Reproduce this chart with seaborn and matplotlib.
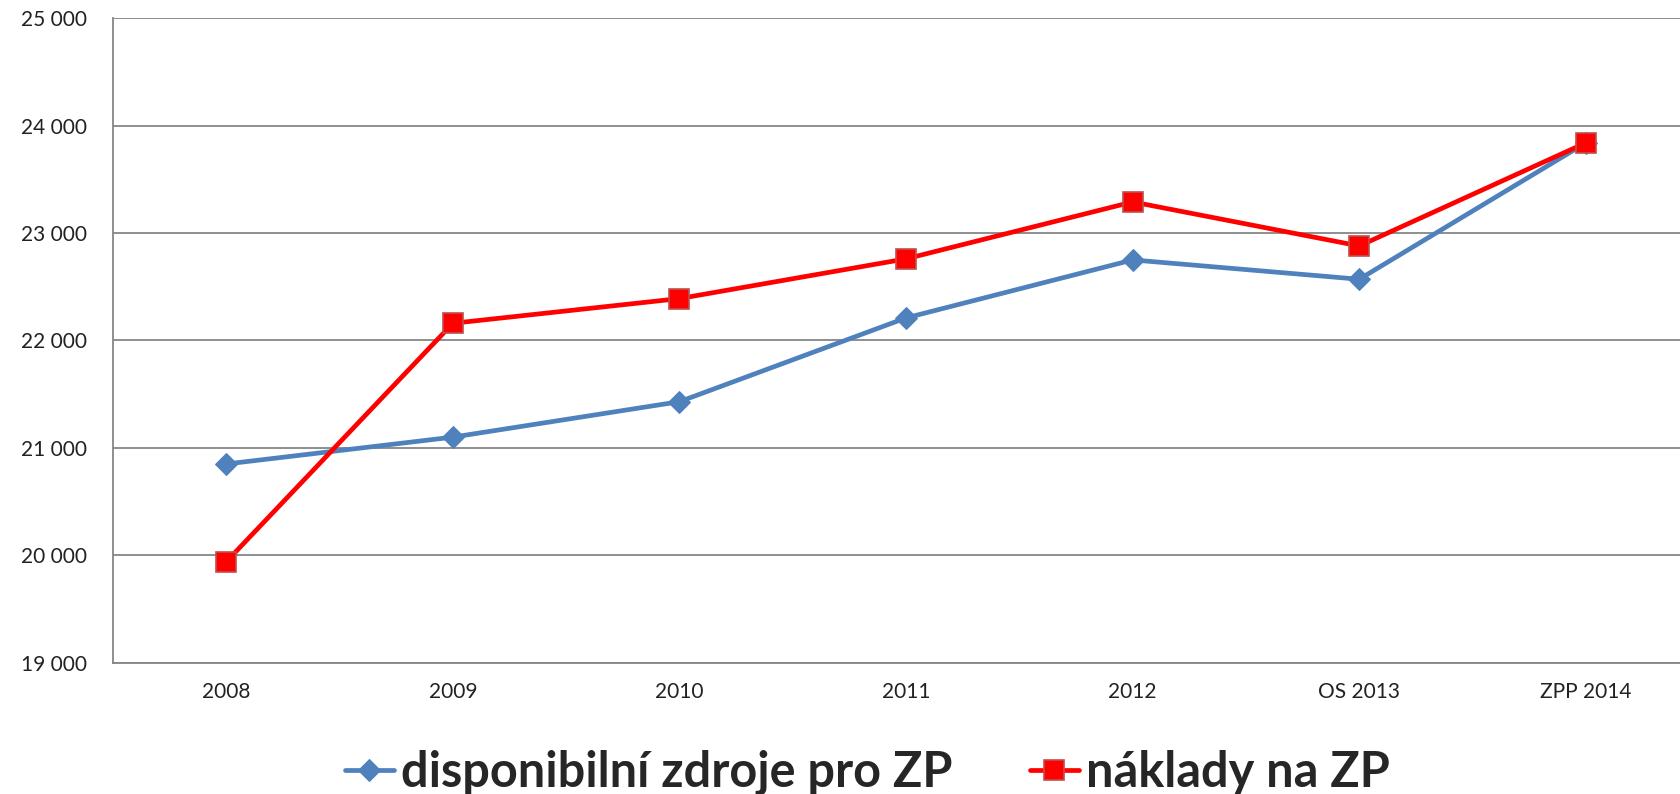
import matplotlib
matplotlib.use("Agg")
import matplotlib.pyplot as plt
import matplotlib.ticker as mticker
import numpy as np
import pandas as pd
import seaborn as sns

# chart data
roky = ["2008", "2009", "2010", "2011", "2012", "OS 2013", "ZPP 2014"]
zdroje = [20850, 21100, 21430, 22210, 22750, 22570, 23840]
naklady = [19940, 22160, 22390, 22760, 23290, 22880, 23840]

df = pd.DataFrame({"pos": np.arange(len(roky)), "zdroje": zdroje, "naklady": naklady})

sns.set_style("white")
plt.rcParams["font.family"] = ["Lato", "DejaVu Sans"]

fig = plt.figure(figsize=(16.81, 7.94), dpi=100)
ax = fig.add_axes([0.0672, 0.1654, 1 - 0.0672, 0.977 - 0.1654])

grey = "#868686"

sns.lineplot(data=df, x="pos", y="zdroje", ax=ax, color="#4f81bd", lw=3.4,
             marker="D", markersize=11, markeredgecolor="#4f81bd",
             label="disponibilní zdroje pro ZP", zorder=3)
sns.lineplot(data=df, x="pos", y="naklady", ax=ax, color="#ff0000", lw=3.4,
             marker="s", markersize=14, markeredgecolor="#c0504d", markeredgewidth=1.2,
             label="náklady na ZP", zorder=4)

ax.set_xlim(-0.5, 6.42)
ax.set_ylim(19000, 25000)
ax.set_yticks(np.arange(19000, 25001, 1000))
ax.yaxis.set_major_formatter(mticker.FuncFormatter(lambda v, p: f"{int(v):,}".replace(",", " ")))
ax.set_xticks(df["pos"])
ax.set_xticklabels(roky)
ax.set_xticks(np.arange(-0.5, 6.0, 1.0), minor=True)
ax.set_xlabel("")
ax.set_ylabel("")

ax.yaxis.grid(True, color=grey, lw=1.3)
ax.set_axisbelow(True)
for s in ["top", "right"]:
    ax.spines[s].set_visible(False)
for s in ["left", "bottom"]:
    ax.spines[s].set_color(grey)
    ax.spines[s].set_linewidth(1.3)

ax.tick_params(axis="x", which="major", length=0, labelsize=15, pad=14, colors="#222222")
ax.tick_params(axis="x", which="minor", length=9, width=1.3, color=grey, direction="out")
ax.tick_params(axis="y", length=9, width=1.3, color=grey, labelsize=15, pad=10, labelcolor="#222222")

ax.get_legend().remove()
h, l = ax.get_legend_handles_labels()
fig.legend(h, l, loc="center", bbox_to_anchor=(0.516, 0.027), ncol=2, frameon=False,
           prop={"weight": "bold", "size": 35}, handlelength=1.0, handletextpad=0.15,
           columnspacing=1.6, borderaxespad=0)

fig.savefig("out.png", dpi=100)
